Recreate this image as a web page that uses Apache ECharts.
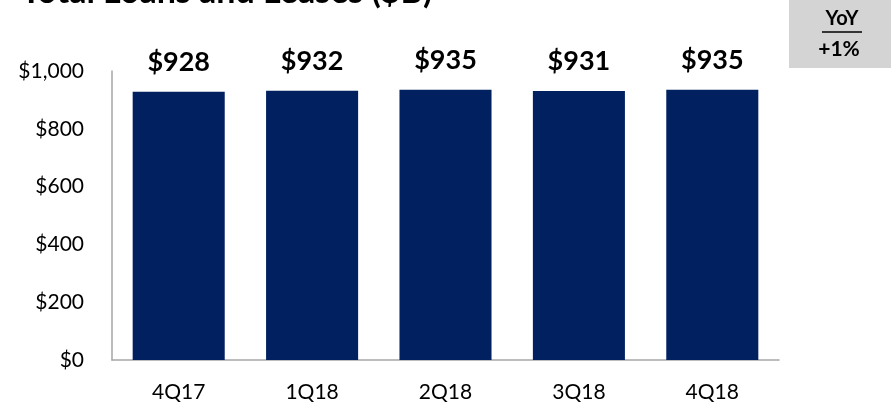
<!DOCTYPE html>
<html><head><meta charset="utf-8">
<script src="https://cdn.jsdelivr.net/npm/echarts@6/dist/echarts.min.js"></script>
<style>html,body{margin:0;padding:0;background:#fff}#c{width:891px;height:406px}</style>
</head><body><div id="c"></div>
<script>
const categories = ['4Q17','1Q18','2Q18','3Q18','4Q18'];
const loans = [928, 932, 935, 931, 935];
const yTicks = [0, 200, 400, 600, 800, 1000];
const FONT = 'Lato, "Open Sans", sans-serif';
const chart = echarts.init(document.getElementById('c'));
chart.setOption({
  animation: false,
  graphic: [
    {type: 'text', x: 21, y: -8, style: {text: 'Total Loans and Leases ($B)', fontFamily: FONT, fontSize: 34, fontWeight: 'bold', fill: '#000', align: 'left', verticalAlign: 'middle'}},
    {type: 'rect', shape: {x: 789, y: 0, width: 102, height: 68}, style: {fill: '#d4d4d4'}},
    {type: 'text', x: 842, y: 19, style: {text: 'YoY', fontFamily: FONT, fontSize: 20, fontWeight: 'bold', fill: '#000', align: 'center', verticalAlign: 'middle'}},
    {type: 'line', shape: {x1: 822, y1: 32, x2: 862, y2: 32}, style: {stroke: '#000', lineWidth: 1.5}},
    {type: 'text', x: 839, y: 49, style: {text: '+1%', fontFamily: FONT, fontSize: 21, fontWeight: 'bold', fill: '#000', align: 'center', verticalAlign: 'middle'}}
  ],
  grid: {left: 112, right: 112, top: 71, bottom: 46, containLabel: false},
  xAxis: {
    type: 'category', data: categories,
    axisLine: {lineStyle: {color: '#a6a6a6', width: 1.5}},
    axisTick: {show: false},
    axisLabel: {fontFamily: FONT, fontSize: 21, color: '#000', margin: 22}
  },
  yAxis: {
    type: 'value', min: 0, max: 1000, interval: 200,
    axisLine: {show: true, lineStyle: {color: '#a6a6a6', width: 1.5}},
    axisTick: {show: false},
    splitLine: {show: false},
    axisLabel: {fontFamily: FONT, fontSize: 21, color: '#000', margin: 28,
      formatter: v => yTicks.includes(v) ? '$' + v.toLocaleString('en-US') : ''}
  },
  series: [{
    type: 'bar', data: loans, barCategoryGap: '31%',
    itemStyle: {color: '#002060'},
    label: {show: true, position: 'top', distance: 16, fontFamily: FONT, fontSize: 27, fontWeight: 'bold', color: '#000', formatter: p => '$' + p.value}
  }]
});
</script></body></html>
